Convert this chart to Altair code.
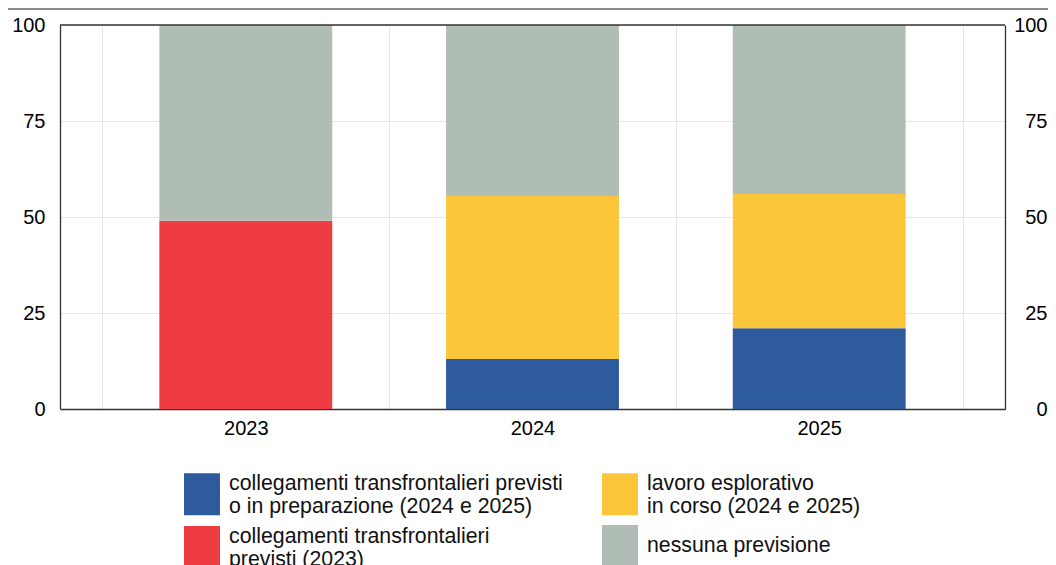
import altair as alt
import pandas as pd

years = ["2023", "2024", "2025"]
categories = [
    "collegamenti transfrontalieri previsti|o in preparazione (2024 e 2025)",
    "collegamenti transfrontalieri|previsti (2023)",
    "lavoro esplorativo|in corso (2024 e 2025)",
    "nessuna previsione",
]
colors = ["#2e5a9e", "#ee3c42", "#fcc63b", "#b0bdb4"]
stack_order = [0, 1, 2, 3]

blue_vals = [0, 13, 21]
red_vals = [49, 0, 0]
yellow_vals = [0, 42.5, 35]
gray_vals = [51, 44.5, 44]

rows = []
for i, y in enumerate(years):
    for cat, vals, o in zip(categories, [blue_vals, red_vals, yellow_vals, gray_vals], stack_order):
        rows.append({"year": y, "cat": cat, "value": vals[i], "ord": o})
df = pd.DataFrame(rows)

FONT = "Liberation Sans"
FRAME = "#333333"
SYM = "M-0.857,-1H0.857V1H-0.857Z"

x_enc = alt.X(
    "year:N",
    scale=alt.Scale(paddingInner=0, paddingOuter=0.148),
    axis=alt.Axis(
        title=None, labelAngle=0, ticks=False, domain=True, domainColor=FRAME,
        domainWidth=1.3, grid=True,
        tickBand="extent", gridColor="#e6e6e6", labelFontSize=20,
        labelPadding=9, labelColor="#000", labelFont=FONT,
    ),
)

bars = alt.Chart(df).mark_bar(width=alt.RelativeBandSize(0.603)).encode(
    x=x_enc,
    y=alt.Y(
        "value:Q",
        stack="zero",
        scale=alt.Scale(domain=[0, 100], nice=False),
        axis=alt.Axis(
            title=None, values=[0, 25, 50, 75, 100], ticks=False, domain=True,
            domainColor=FRAME, domainWidth=1.3,
            gridColor="#e6e6e6", labelFontSize=20, labelPadding=15,
            labelColor="#000", labelFont=FONT,
        ),
    ),
    color=alt.Color("cat:N", scale=alt.Scale(domain=categories, range=colors), legend=None),
    order=alt.Order("ord:Q"),
)

right = alt.Chart(df).mark_bar(opacity=0, width=alt.RelativeBandSize(0.603)).encode(
    x=alt.X("year:N"),
    y=alt.Y(
        "value:Q",
        stack="zero",
        axis=alt.Axis(
            title=None, orient="right", values=[0, 25, 50, 75, 100], ticks=False,
            domain=True, domainColor=FRAME, domainWidth=1.3, grid=False,
            labelFontSize=20, labelPadding=42,
            labelAlign="right", labelColor="#000", labelFont=FONT,
        ),
    ),
    order=alt.Order("ord:Q"),
)

legend_common = dict(
    title=None, orient="none", symbolType=SYM, symbolSize=1764,
    symbolStrokeWidth=0, symbolOpacity=1, labelFontSize=21.3,
    labelFont=FONT, labelColor="#111", labelLimit=600, labelOffset=6,
)

leg_df1 = df[df["cat"] != categories[3]]
leg1 = alt.Chart(leg_df1).mark_square(opacity=0, size=1).encode(
    color=alt.Color(
        "cat:N",
        scale=alt.Scale(domain=categories[:3], range=colors[:3]),
        legend=alt.Legend(
            legendX=121, legendY=448, columns=2, columnPadding=36, rowPadding=8,
            labelExpr="split(datum.label, '|')", labelBaseline="bottom",
            **legend_common,
        ),
    ),
)

leg_df2 = df[df["cat"] == categories[3]]
leg2 = alt.Chart(leg_df2).mark_square(opacity=0, size=1).encode(
    color=alt.Color(
        "cat:N",
        scale=alt.Scale(domain=categories[3:], range=colors[3:]),
        legend=alt.Legend(
            legendX=539, legendY=500, labelBaseline="middle", **legend_common,
        ),
    ),
)

k = pd.DataFrame({"k": [0]})
topline = alt.Chart(k).mark_rule(color="#666666", strokeWidth=1.5).encode(
    x=alt.value(-52), x2=alt.value(988), y=alt.value(-16)
)
frame_top = alt.Chart(k).mark_rule(color=FRAME, strokeWidth=1.3).encode(
    x=alt.value(0), x2=alt.value(945), y=alt.value(0)
)

chart = (
    alt.layer(bars, right, leg1, leg2, topline, frame_top)
    .resolve_axis(y="independent")
    .resolve_scale(color="independent")
    .properties(
        width=945, height=384,
        autosize=alt.AutoSizeParams(type="none"),
        padding={"left": 52, "top": 17, "right": 43, "bottom": 156},
    )
    .configure_view(stroke=None)
    .configure(font=FONT)
)

chart.save("out.html", embed_options={"renderer": "svg", "actions": False})
